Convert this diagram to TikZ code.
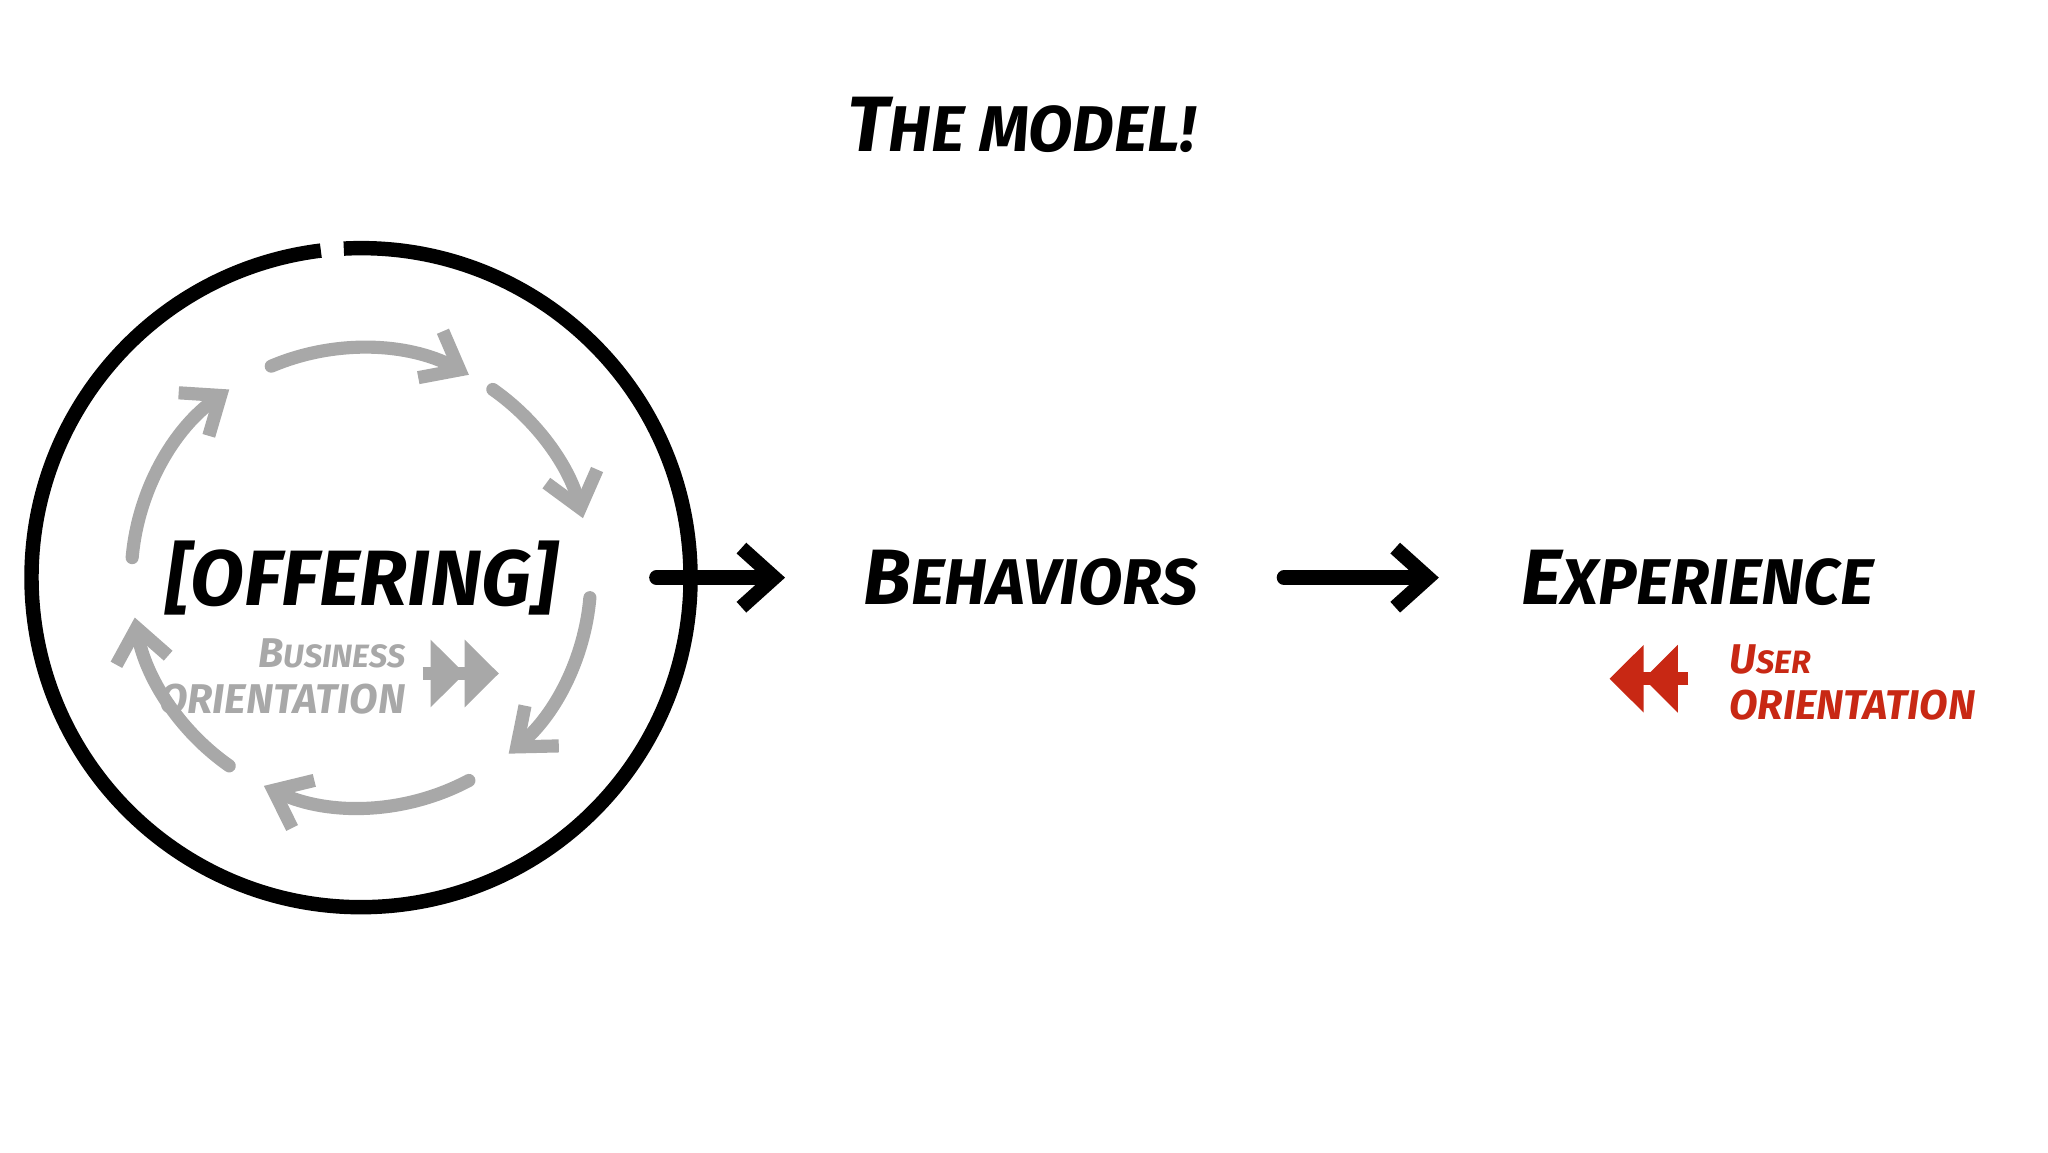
\documentclass[tikz,border=0pt]{standalone}
\usepackage{fontspec}
\setmainfont{Fira Sans}
\usetikzlibrary{arrows.meta}
\definecolor{gr}{RGB}{168,168,168}
\definecolor{rd}{RGB}{200,40,20}
\begin{document}
\begin{tikzpicture}[x=0.01cm,y=-0.01cm,
  lab/.style={font=\fontsize{17}{20}\selectfont\bfseries\itshape},
  small/.style={font=\fontsize{9}{10}\selectfont\bfseries\itshape, align=left},
  garc/.style={gr, line width=1mm, line cap=round, -{Straight Barb[length=2.5mm,width=4mm]}},
  blk/.style={black, line width=1.1mm, line cap=round, -{Straight Barb[length=2.5mm,width=4.5mm]}},
  dbl/.style={line width=1mm, -{Triangle[length=2.6mm,width=5mm]Triangle[length=2.6mm,width=5mm]}}]
\useasboundingbox (0,0) rectangle (1560,878);
\node[lab] (title) at (778,95) {T\fontsize{14}{18}\selectfont HE M\fontsize{14}{18}\selectfont ODEL!};
\coordinate (c) at (275,440);
\draw[line width=1.1mm] (c) ++(-93:251) arc[start angle=-93,end angle=263,radius=251];
\foreach \a/\b in {-113/-62, -55/-15, 5/50, 62/115, 125/170, -175/-125}
  \draw[garc] (c) ++(\a:175) arc[start angle=\a,end angle=\b,radius=175];
\node[lab] (off) at (275,440) {[OFFERING]};
\node[lab] (beh) at (785,440) {B\fontsize{14}{18}\selectfont EHAVIORS};
\node[lab] (exp) at (1293,440) {E\fontsize{14}{18}\selectfont XPERIENCE};
\coordinate (a1) at (500,440); \coordinate (a2) at (598,440);
\coordinate (b1) at (978,440); \coordinate (b2) at (1096,440);
\draw[blk] (a1) -- (a2);
\draw[blk] (b1) -- (b2);
\node[small, gr, align=right] (bus) at (215,515) {B\fontsize{7}{10}\selectfont USINESS\\\fontsize{9}{10}\selectfont ORIENTATION};
\coordinate (g1) at (322,513); \coordinate (g2) at (380,513);
\draw[gr, dbl] (g1) -- (g2);
\coordinate (r1) at (1286,517); \coordinate (r2) at (1226,517);
\draw[rd, dbl] (r1) -- (r2);
\node[small, rd, anchor=west] (user) at (1305,520) {U\fontsize{7}{10}\selectfont SER\\\fontsize{9}{10}\selectfont ORIENTATION};
\end{tikzpicture}
\end{document}
